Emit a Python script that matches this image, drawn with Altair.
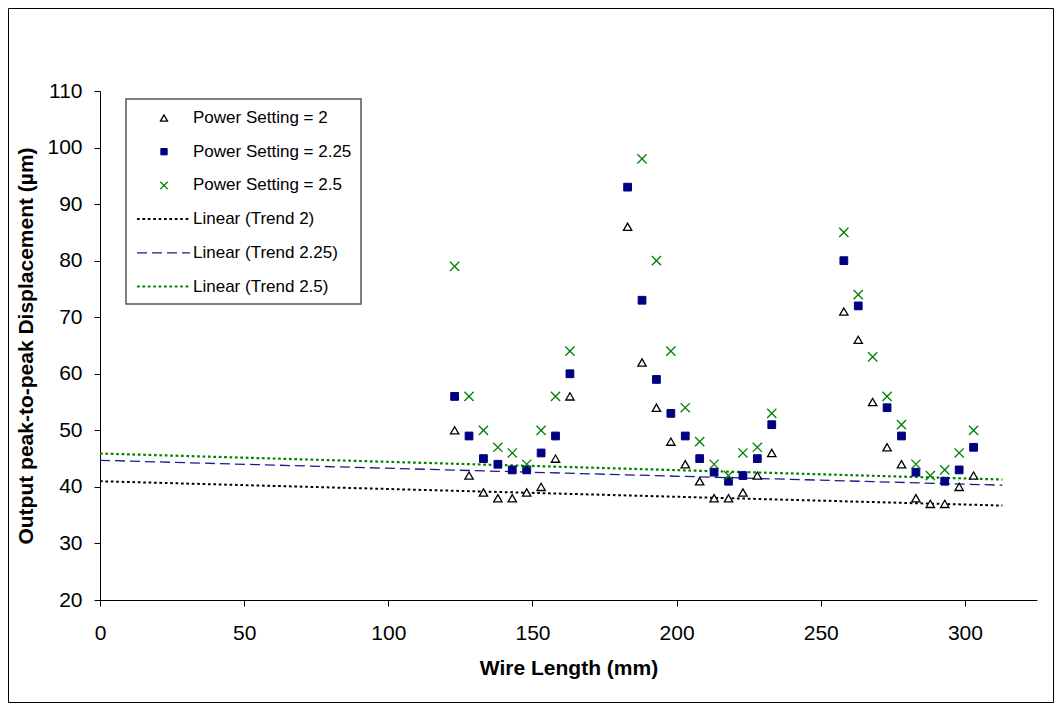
import altair as alt
import pandas as pd

# ---------------- data ----------------
wire_length = [123, 128, 133, 138, 143, 148, 153, 158, 163,
               183, 188, 193, 198, 203, 208, 213, 218, 223, 228, 233,
               258, 263, 268, 273, 278, 283, 288, 293, 298, 303]
power_2 = [50, 42, 39, 38, 38, 39, 40, 45, 56,
           86, 62, 54, 48, 44, 41, 38, 38, 39, 42, 46,
           71, 66, 55, 47, 44, 38, 37, 37, 40, 42]
power_225 = [56, 49, 45, 44, 43, 43, 46, 49, 60,
             93, 73, 59, 53, 49, 45, 42.6, 41, 42, 45, 51,
             80, 72, None, 54, 49, 42.6, None, 41, 43, 47]
power_25 = [79, 56, 50, 47, 46, 44, 50, 56, 64,
            None, 98, 80, 64, 54, 48, 44, 42, 46, 47, 53,
            85, 74, 63, 56, 51, 44, 42, 43, 46, 50]

trend_x = [0, 313]
trend_2 = [41.0, 36.7]
trend_225 = [44.7, 40.3]
trend_25 = [45.9, 41.3]

series = ["Power Setting = 2", "Power Setting = 2.25", "Power Setting = 2.5",
          "Linear (Trend 2)", "Linear (Trend 2.25)", "Linear (Trend 2.5)"]

x_ticks = [0, 50, 100, 150, 200, 250, 300]
y_ticks = [20, 30, 40, 50, 60, 70, 80, 90, 100, 110]

FONT = "Liberation Sans"
X_SHAPE = "M-1,-1L1,1M-1,1L1,-1"

# marker / line styles per series (same order as `series`)
point_styles = [
    dict(shape="triangle-up", fill="white", stroke="black", size=70, strokeWidth=1.3),
    dict(shape="square", fill="#000080", stroke="#000080", size=60, strokeWidth=1),
    dict(shape=X_SHAPE, fill="transparent", stroke="#008000", size=85, strokeWidth=1.3),
]
legend_sizes = [50, 40, 55]
line_styles = [
    dict(color="black", strokeWidth=2, strokeDash=[2.7, 2.7]),
    dict(color="#1a1a8c", strokeWidth=1.3, strokeDash=[10, 5]),
    dict(color="#008000", strokeWidth=2.2, strokeDash=[2.7, 2.7]),
]

# ---------------- scales / axes ----------------
x_enc = alt.X("x:Q", title="Wire Length (mm)",
              scale=alt.Scale(domain=[0, 325], nice=False, zero=False),
              axis=alt.Axis(values=x_ticks, labelPadding=16, titlePadding=14,
                            labelFlush=False))
y_enc = alt.Y("y:Q", title="Output peak-to-peak Displacement (µm)",
              scale=alt.Scale(domain=[20, 110], nice=False, zero=False),
              axis=alt.Axis(values=y_ticks, labelPadding=12, titlePadding=10))

layers = []

# outer frame of the chart
layers.append(
    alt.Chart(alt.Data(values=[{}])).mark_rect(
        fillOpacity=0, stroke="black", strokeWidth=1
    ).encode(x=alt.value(-91.5), x2=alt.value(953.5),
             y=alt.value(-82.5), y2=alt.value(611.5))
)

# trend lines
for name, vals, st in zip(series[3:], [trend_2, trend_225, trend_25], line_styles):
    df = pd.DataFrame({"x": trend_x, "y": vals, "series": name})
    layers.append(alt.Chart(df).mark_line(**st).encode(x=x_enc, y=y_enc))

# scatter series
for name, vals, st in zip(series[:3], [power_2, power_225, power_25], point_styles):
    df = pd.DataFrame({"x": wire_length, "y": vals, "series": name}).dropna()
    layers.append(
        alt.Chart(df).mark_point(filled=True, opacity=1, **st).encode(x=x_enc, y=y_enc)
    )

# ---------------- legend (drawn as a box with symbols and labels) ----------------
LEG_X0, LEG_X1, LEG_Y0, LEG_Y1 = 26, 261, 8, 213
ROW0, ROW_STEP = 27, 33.7
SYM_X, LINE_X0, LINE_X1, LABEL_X = 64, 37, 90, 93

layers.append(
    alt.Chart(alt.Data(values=[{}])).mark_rect(
        fill="white", stroke="#555555", strokeWidth=1.5
    ).encode(x=alt.value(LEG_X0), x2=alt.value(LEG_X1),
             y=alt.value(LEG_Y0), y2=alt.value(LEG_Y1))
)
for i, name in enumerate(series):
    ry = ROW0 + ROW_STEP * i
    if i < 3:
        st = dict(point_styles[i])
        st["size"] = legend_sizes[i]
        layers.append(
            alt.Chart(alt.Data(values=[{"label": name}])).mark_point(
                filled=True, opacity=1, **st
            ).encode(x=alt.value(SYM_X), y=alt.value(ry))
        )
    else:
        layers.append(
            alt.Chart(alt.Data(values=[{"label": name}])).mark_rule(
                **line_styles[i - 3]
            ).encode(x=alt.value(LINE_X0), x2=alt.value(LINE_X1), y=alt.value(ry))
        )
    layers.append(
        alt.Chart(alt.Data(values=[{"label": name}])).mark_text(
            align="left", baseline="middle", font=FONT, fontSize=17, color="black"
        ).encode(x=alt.value(LABEL_X), y=alt.value(ry), text="label:N")
    )

chart = alt.layer(*layers).properties(
    width=937, height=509,
    autosize=alt.AutoSizeParams(type="none"),
    padding={"left": 92, "top": 83, "right": 17, "bottom": 103},
    background="white",
).configure_view(stroke=None).configure_axis(
    grid=False, domainColor="black", tickColor="black", tickSize=6,
    labelFont=FONT, labelFontSize=21, labelColor="black",
    titleFont=FONT, titleFontSize=21, titleFontWeight="bold", titleColor="black",
)

chart.save("out.html", embed_options={"renderer": "svg", "actions": False})
